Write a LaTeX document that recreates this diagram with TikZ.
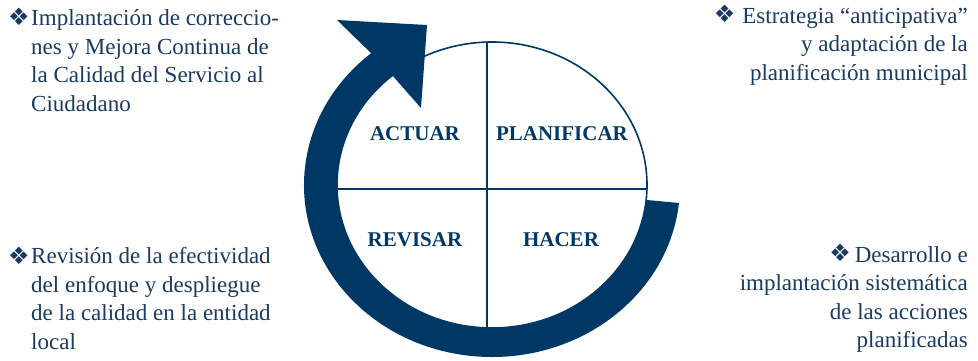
\documentclass[tikz,border=0pt]{standalone}
\usepackage{fontspec}
\setmainfont{Liberation Serif}
\newfontfamily\dingfont{DejaVu Sans}
\usetikzlibrary{calc}
\definecolor{navy}{RGB}{0,56,101}
\definecolor{inktext}{RGB}{25,58,98}

\begin{document}
\begin{tikzpicture}[x=1pt, y=1pt, line cap=round, line join=round,
  fase/.style={font=\fontsize{21}{24}\selectfont\bfseries, text=navy, inner sep=0pt},
  texto/.style={font=\rmfamily\fontsize{23}{28.4}\selectfont, text=inktext, inner sep=0pt},
  vineta/.style={font=\dingfont\fontsize{24}{26}\selectfont, text=inktext, inner sep=0pt}]
  \useasboundingbox (0,0) rectangle (978,360);

  % --- Coordinates (pixels, y up) ---
  \coordinate (Ctr) at (492,175);
  \coordinate (hA) at (337,340);
  \coordinate (hB) at (427,335);
  \coordinate (hC) at (421,252);

  % --- Ellipse and its four quarters ---
  \draw[navy, line width=1.6pt] (Ctr) ellipse [x radius=155pt, y radius=143pt];
  \draw[navy, line width=1.3pt] ($(Ctr)+(-5,143)$) -- ($(Ctr)+(-5,-143)$);
  \draw[navy, line width=1.3pt] ($(Ctr)+(-155,-4)$) -- ($(Ctr)+(155,-4)$);

  % --- Thick cycle arrow (outer arc, head, inner arc) ---
  \fill[navy] ($(Ctr)+(-6:188pt and 172pt)$)
    arc[start angle=-6, end angle=-230, x radius=188pt, y radius=172pt]
    -- (hA) -- (hB) -- (hC)
    -- ($(Ctr)+(130:155pt and 143pt)$)
    arc[start angle=130, end angle=354, x radius=155pt, y radius=143pt]
    -- cycle;

  % --- Phases ---
  \node[fase] (actuar) at (415,226) {ACTUAR};
  \node[fase] (planificar) at (562,226) {PLANIFICAR};
  \node[fase] (revisar) at (415,120) {REVISAR};
  \node[fase] (hacer) at (561,120) {HACER};

  % --- Left texts (base = last line) ---
  \node[vineta, anchor=base west] (b1) at (8,335) {❖};
  \node[texto, anchor=base west, align=left] (t1) at (31,249)
    {Implantación de correccio-\\nes y Mejora Continua de\\la Calidad del Servicio al\\Ciudadano};
  \node[vineta, anchor=base west] (b3) at (8,96) {❖};
  \node[texto, anchor=base west, align=left] (t3) at (31,11)
    {Revisión de la efectividad\\del enfoque y despliegue\\de la calidad en la entidad\\local};

  % --- Right texts ---
  \node[texto, anchor=base east, align=right] (t2) at (968,280)
    {\raisebox{1pt}{\dingfont\fontsize{24}{26}\selectfont ❖}\hspace{7pt}Estrategia “anticipativa”\\y adaptación de la\\planificación municipal};
  \node[texto, anchor=base east, align=right] (t4) at (968,12.5)
    {\raisebox{1pt}{\dingfont\fontsize{24}{26}\selectfont ❖}\hspace{4pt}Desarrollo e\\implantación sistemática\\de las acciones\\planificadas};
\end{tikzpicture}
\end{document}
